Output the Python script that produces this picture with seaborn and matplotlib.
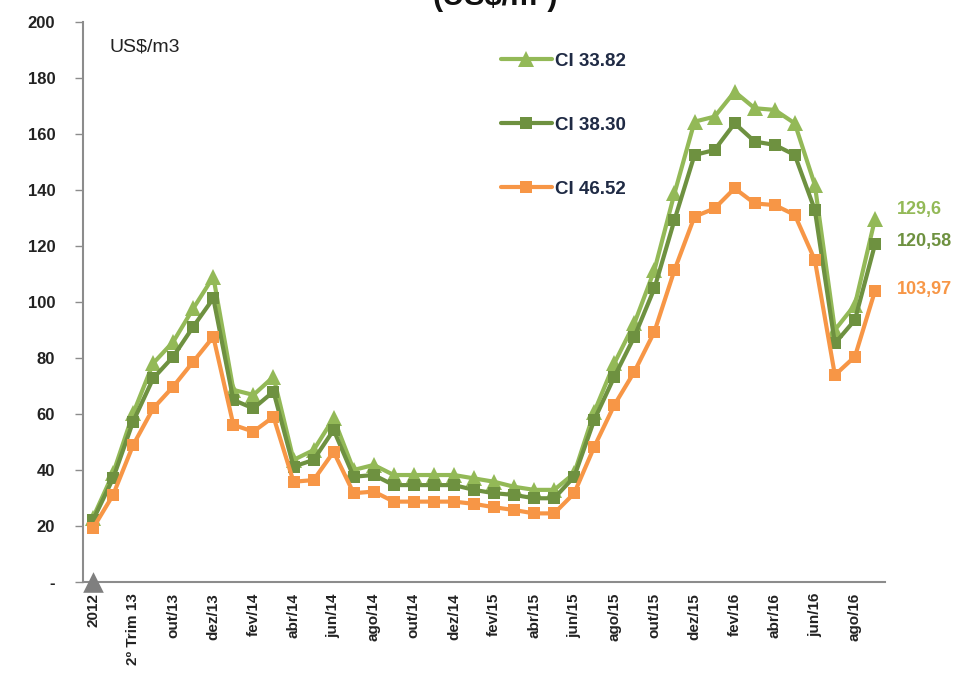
import numpy as np
import pandas as pd
import matplotlib
matplotlib.use("Agg")
import matplotlib.pyplot as plt
import seaborn as sns

# categories (label shown every other one, Excel style)
categories = ["2012", "1º Trim 13", "2º Trim 13", "set/13", "out/13", "nov/13", "dez/13",
              "jan/14", "fev/14", "mar/14", "abr/14", "mai/14", "jun/14", "jul/14", "ago/14",
              "set/14", "out/14", "nov/14", "dez/14", "jan/15", "fev/15", "mar/15", "abr/15",
              "mai/15", "jun/15", "jul/15", "ago/15", "set/15", "out/15", "nov/15", "dez/15",
              "jan/16", "fev/16", "mar/16", "abr/16", "mai/16", "jun/16", "jul/16", "ago/16",
              "set/16"]

ci_3382 = [23, 38.8, 60.2, 78.1, 85.8, 97.7, 109.0, 68.6, 66.8, 73.3, 43.6, 47.1, 58.5, 40.0,
           41.8, 38.2, 38.2, 38.2, 38.2, 37.0, 35.8, 34.0, 32.9, 32.9, 38.8, 60.8, 78.1, 92.4,
           111.4, 138.8, 164.4, 166.2, 175.1, 169.2, 168.6, 163.8, 141.8, 90.0, 99.0, 129.6]
ci_3830 = [22.1, 37.0, 57.3, 72.7, 80.5, 91.2, 101.3, 65.0, 62.0, 68.0, 41.2, 43.6, 54.3, 37.6,
           38.2, 34.6, 34.6, 34.6, 34.6, 32.9, 31.7, 31.1, 29.9, 29.9, 37.6, 57.9, 73.3, 87.6,
           104.9, 129.3, 152.5, 154.3, 163.8, 157.3, 156.1, 152.5, 132.9, 85.2, 93.6, 120.58]
ci_4652 = [19.2, 31.1, 48.9, 62.0, 69.8, 78.7, 87.6, 56.1, 53.7, 59.0, 35.8, 36.4, 46.5, 31.7,
           32.3, 28.7, 28.7, 28.7, 28.7, 27.9, 26.7, 25.7, 24.5, 24.5, 31.7, 48.3, 63.2, 75.1,
           89.4, 111.4, 130.5, 133.4, 140.6, 135.2, 134.6, 131.1, 115.0, 73.9, 80.5, 103.97]
base_point = [0]

end_labels = ["129,6", "120,58", "103,97"]
y_ticks = [0, 20, 40, 60, 80, 100, 120, 140, 160, 180, 200]
y_ticklabels = ["-"] + [str(v) for v in y_ticks[1:]]

c_light = "#93B957"
c_dark = "#6E9140"
c_orange = "#F79646"

df = pd.DataFrame({"idx": np.arange(len(categories)), "cat": categories,
                   "CI 33.82": ci_3382, "CI 38.30": ci_3830, "CI 46.52": ci_4652})

sns.set_style("white")
plt.rcParams["font.family"] = ["Liberation Sans Narrow", "Liberation Sans", "DejaVu Sans"]

fig = plt.figure(figsize=(9.72, 6.83), dpi=100)
ax = fig.add_axes([0.0854, 0.1479, 0.8251, 0.8199])

series = [("CI 33.82", c_light, "^", 11), ("CI 38.30", c_dark, "s", 9), ("CI 46.52", c_orange, "s", 9)]
for name, col, mk, ms in series:
    sns.lineplot(data=df, x="idx", y=name, color=col, marker=mk, markersize=ms,
                 markeredgewidth=0, linewidth=3, ax=ax, label=name, sort=False)

# grey marker at zero for the first category
sns.scatterplot(x=[0], y=base_point, marker="^", s=220, color="#7F7F7F", linewidth=0,
                ax=ax, legend=False, zorder=5, clip_on=False)

ax.set_xlim(-0.5, len(categories) - 0.5)
ax.set_ylim(0, 200)
ax.set_xlabel("")
ax.set_ylabel("")

ax.set_xticks(df["idx"][::2])
ax.set_xticklabels(df["cat"][::2], rotation=90, fontsize=11, fontweight="bold", color="#222222")
ax.set_xticks(np.arange(-0.5, len(categories)), minor=True)
ax.tick_params(axis="x", which="major", length=0, pad=8)
ax.tick_params(axis="x", which="minor", length=5, width=1, color="#8C8C8C", direction="out")

ax.set_yticks(y_ticks)
ax.set_yticklabels(y_ticklabels, fontsize=12, fontweight="bold", color="#222222")
ax.tick_params(axis="y", length=6, width=1, color="#8C8C8C", direction="out", left=True, pad=14)

for side in ["top", "right"]:
    ax.spines[side].set_visible(False)
for side in ["left", "bottom"]:
    ax.spines[side].set_color("#8C8C8C")
    ax.spines[side].set_linewidth(1.5)

# end-of-series labels
x_lab = len(categories) - 0.5 + 0.6
ax.text(x_lab, 133, end_labels[0], color=c_light, fontsize=13,
        fontweight="bold", va="center", clip_on=False)
ax.text(x_lab, 121.5, end_labels[1], color=c_dark, fontsize=13,
        fontweight="bold", va="center", clip_on=False)
ax.text(x_lab, 104.5, end_labels[2], color=c_orange, fontsize=13,
        fontweight="bold", va="center", clip_on=False)

ax.text(0.033, 0.955, "US$/m3", transform=ax.transAxes, fontsize=14, color="#222222", va="center")

leg = ax.legend(loc="upper left", bbox_to_anchor=(0.50, 0.975), frameon=False, fontsize=13.5,
                handlelength=2.7, handletextpad=0.2, labelspacing=2.5)
for t in leg.get_texts():
    t.set_fontweight("bold")
    t.set_color("#1F2A44")

fig.text(0.51, 0.983, "(US$/m³)", ha="center", va="bottom", fontsize=22, fontweight="bold",
         color="#111111")

fig.savefig("out.png", dpi=100)
